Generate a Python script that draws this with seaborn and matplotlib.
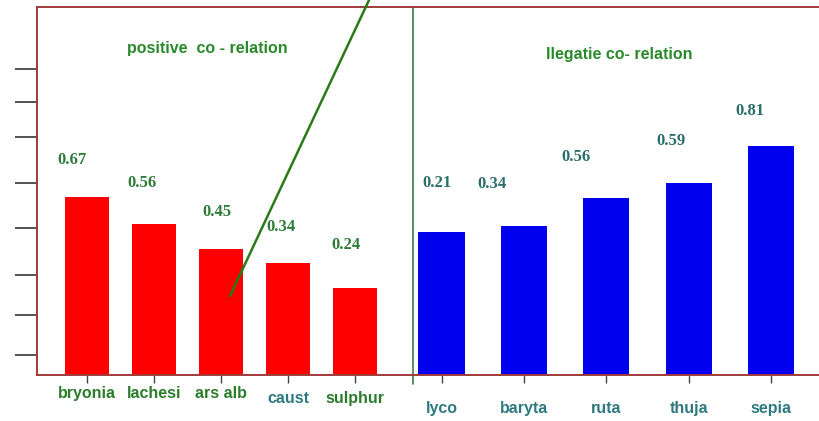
import matplotlib
matplotlib.use("Agg")
import matplotlib.pyplot as plt
from matplotlib.lines import Line2D
import seaborn as sns
import pandas as pd

# ---- data (bar heights, fraction of axis height) ----
pos_names = ["bryonia", "lachesi", "ars alb", "caust", "sulphur"]
pos_heights = [0.484, 0.410, 0.342, 0.304, 0.236]
pos_labels = ["0.67", "0.56", "0.45", "0.34", "0.24"]

neg_names = ["lyco", "baryta", "ruta", "thuja", "sepia"]
neg_heights = [0.389, 0.405, 0.481, 0.522, 0.622]
neg_labels = ["0.21", "0.34", "0.56", "0.59", "0.81"]

pos_title = "positive  co - relation"
neg_title = "Ilegatie co- relation"

# ---- layout (positions of value labels, in category / axis-fraction units) ----
pos_label_x = [-0.22, 0.82, 1.94, 2.90, 3.87]
pos_label_y = [0.584, 0.522, 0.443, 0.402, 0.353]
neg_label_x = [-0.05, 0.61, 1.63, 2.79, 3.74]
neg_label_y = [0.522, 0.519, 0.592, 0.636, 0.717]
left_ticks_y = [0.832, 0.742, 0.647, 0.522, 0.399, 0.272, 0.163, 0.054]

sns.set_theme(style="white")
plt.rcParams["font.family"] = ["Liberation Sans Narrow", "Liberation Sans", "DejaVu Sans"]

W, H = 819, 421
fig = plt.figure(figsize=(W / 100, H / 100), dpi=100)
fig.patch.set_facecolor("white")

frame_col = "#a03a3a"
green = "#2b7d2b"
teal = "#2e7a80"
ax_bottom = (H - 375) / H
ax_h = 368 / H

axL = fig.add_axes([37 / W, ax_bottom, (413 - 37) / W, ax_h])
axR = fig.add_axes([413 / W, ax_bottom, (W - 413) / W, ax_h])

dfL = pd.DataFrame({"name": pos_names, "h": pos_heights})
dfR = pd.DataFrame({"name": neg_names, "h": neg_heights})

sns.barplot(data=dfL, x="name", y="h", color="#ff0000", saturation=1,
            width=0.66, ax=axL, edgecolor="none")
sns.barplot(data=dfR, x="name", y="h", color="#0000ee", saturation=1,
            width=0.56, ax=axR, edgecolor="none")

axL.set_xlim(-0.75, 4.87)
axR.set_xlim(-0.346, 4.58)
for ax in (axL, axR):
    ax.set_ylim(0, 1)
    ax.set_xlabel("")
    ax.set_ylabel("")
    ax.set_facecolor("white")
    ax.spines["right"].set_visible(False)
    for s in ("top", "bottom"):
        ax.spines[s].set_color(frame_col)
        ax.spines[s].set_linewidth(1.4)

axL.spines["left"].set_color(frame_col)
axL.spines["left"].set_linewidth(1.4)
axR.spines["left"].set_color("#3f7a3f")
axR.spines["left"].set_linewidth(1.2)
axR.add_line(Line2D([0, 0], [0, -0.025], transform=axR.transAxes,
                    color="#3f7a3f", lw=1.2, clip_on=False))

# left axis ticks (no labels)
axL.set_yticks(left_ticks_y)
axL.set_yticklabels([])
axL.tick_params(axis="y", direction="out", length=16, width=1.2, color="#333333", left=True)
axR.set_yticks([])

# x tick labels
axL.tick_params(axis="x", direction="out", length=6, width=1, color="#444444", pad=2, bottom=True)
axR.tick_params(axis="x", direction="out", length=6, width=1, color="#444444", pad=13, bottom=True)
axL.set_xticks(range(len(pos_names)))
axR.set_xticks(range(len(neg_names)))
axL.set_xticklabels(pos_names, fontsize=11.5, fontweight="bold")
axR.set_xticklabels(neg_names, fontsize=11.5, fontweight="bold")
for i, t in enumerate(axL.get_xticklabels()):
    t.set_color(teal if pos_names[i] == "caust" else green)
    if pos_names[i] in ("caust", "sulphur"):
        t.set_y(-0.012)
for t in axR.get_xticklabels():
    t.set_color(teal)

# value labels
serif = ["Liberation Serif", "DejaVu Serif"]
for x, y, s in zip(pos_label_x, pos_label_y, pos_labels):
    axL.text(x, y, s, ha="center", va="center", fontsize=12, fontweight="bold",
             color="#2e7b3a", family=serif)
for x, y, s in zip(neg_label_x, neg_label_y, neg_labels):
    axR.text(x, y, s, ha="center", va="center", fontsize=12, fontweight="bold",
             color="#2a6e6a", family=serif)

# group titles
axL.text(1.80, (375 - 49) / 368, pos_title, ha="center", va="center",
         fontsize=11.5, fontweight="bold", color="#2a8a2a")
axR.text(2.16, (375 - 54) / 368, neg_title, ha="center", va="center",
         fontsize=11.5, fontweight="bold", color="#2a8a2a")

# diagonal green line across the figure
fig.add_artist(Line2D([230 / W, 370 / W], [1 - 296 / H, 1 + 2 / H],
                      transform=fig.transFigure, color="#2a7a1a", lw=1.8))

fig.savefig("out.png", dpi=100, facecolor="white")
